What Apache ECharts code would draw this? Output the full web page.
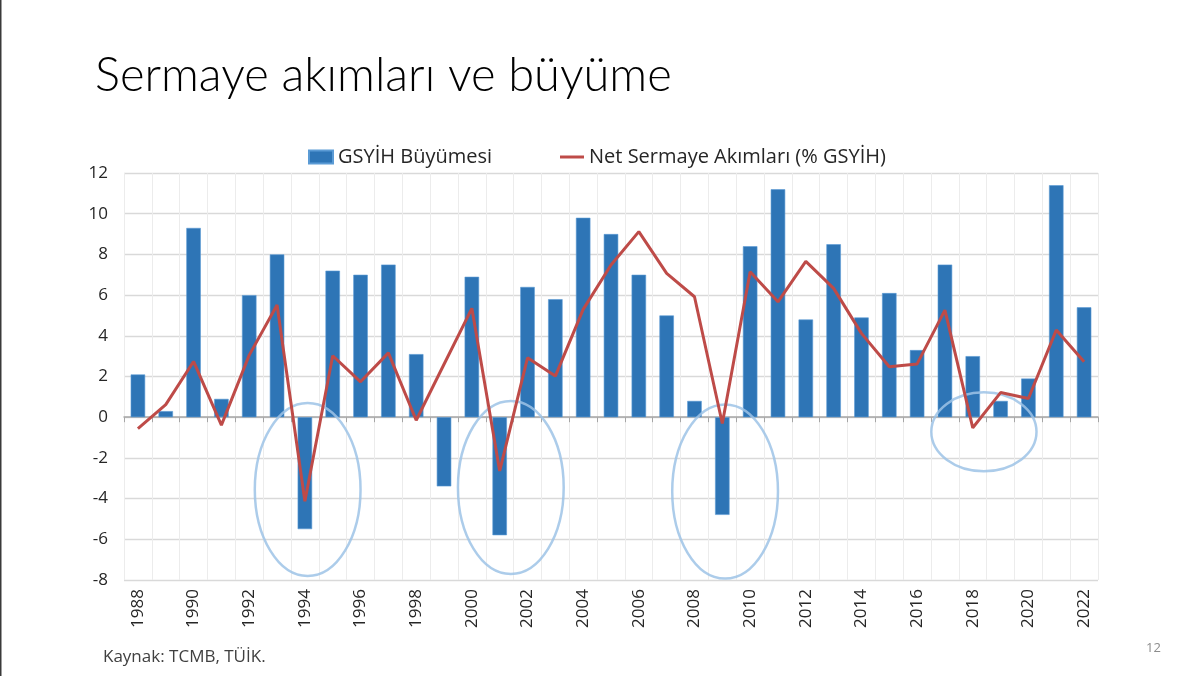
<!DOCTYPE html>
<html>
<head>
<meta charset="utf-8">
<script src="https://cdn.jsdelivr.net/npm/echarts@6/dist/echarts.min.js"></script>
<style>
html,body{margin:0;padding:0;background:#fff;}
#c{width:1200px;height:676px;}
</style>
</head>
<body>
<div id="c"></div>
<script>
const years = ['1988','1989','1990','1991','1992','1993','1994','1995','1996','1997','1998','1999','2000','2001','2002','2003','2004','2005','2006','2007','2008','2009','2010','2011','2012','2013','2014','2015','2016','2017','2018','2019','2020','2021','2022'];
const gdpGrowth = [2.1,0.3,9.3,0.9,6.0,8.0,-5.5,7.2,7.0,7.5,3.1,-3.4,6.9,-5.8,6.4,5.8,9.8,9.0,7.0,5.0,0.8,-4.8,8.4,11.2,4.8,8.5,4.9,6.1,3.3,7.5,3.0,0.8,1.9,11.4,5.4];
const netCapitalFlows = [-0.56,0.62,2.74,-0.39,3.05,5.51,-4.13,3.02,1.74,3.16,-0.15,2.6,5.35,-2.64,2.92,2.02,5.3,7.48,9.12,7.07,5.92,-0.31,7.15,5.67,7.66,6.33,4.12,2.48,2.62,5.26,-0.52,1.21,0.92,4.28,2.72];
const seriesNames = ['GSYİH Büyümesi','Net Sermaye Akımları (% GSYİH)'];
// annotation ellipses in data units: year (fractional category), value, radius in categories / value units
const annotations = [
  {year:1994.1, value:-3.55, rx:1.9, ry:4.25},
  {year:2001.4, value:-3.45, rx:1.9, ry:4.25},
  {year:2009.1, value:-3.65, rx:1.9, ry:4.28},
  {year:2018.4, value:-0.72, rx:1.89, ry:1.94}
];

const FONT = '"Open Sans", "Noto Sans", sans-serif';
const chart = echarts.init(document.getElementById('c'), null, {renderer:'canvas'});
chart.setOption({
  animation:false,
  backgroundColor:'#ffffff',
  title:{
    text:'Sermaye akımları ve büyüme',
    left:90, top:47,
    textStyle:{fontFamily:'Lato, "Open Sans", sans-serif', fontWeight:300, fontSize:47, color:'#000000'}
  },
  legend:{
    top:142, left:303,
    itemWidth:24, itemHeight:13, itemGap:68,
    textStyle:{fontFamily:FONT, fontSize:20, color:'#262626'},
    data:[
      {name:seriesNames[0], icon:'rect'},
      {name:seriesNames[1], icon:'path://M0 0H24V3H0Z', itemStyle:{color:'#BE4B48'}}
    ]
  },
  grid:{left:124, right:102, top:173, bottom:96, containLabel:false},
  xAxis:[
    {
      type:'category', data:years, position:'bottom',
      axisLine:{show:false, onZero:false},
      axisTick:{show:false},
      axisLabel:{interval:1, rotate:90, fontFamily:FONT, fontSize:17, color:'#262626', margin:9},
      splitLine:{show:true, interval:0, lineStyle:{color:'#ececec', width:1}}
    },
    {
      type:'category', data:years, position:'bottom',
      axisLine:{show:true, onZero:true, lineStyle:{color:'#a6a6a6', width:1.5}},
      axisTick:{show:true, interval:0, length:5, lineStyle:{color:'#a6a6a6', width:1}},
      axisLabel:{show:false},
      splitLine:{show:false}
    }
  ],
  yAxis:{
    type:'value', min:-8, max:12, interval:2,
    axisLine:{show:false}, axisTick:{show:false},
    axisLabel:{fontFamily:FONT, fontSize:17, color:'#262626', margin:16},
    splitLine:{lineStyle:{color:'#d9d9d9', width:1.3}}
  },
  series:[
    {
      name:seriesNames[0], type:'bar', data:gdpGrowth, xAxisIndex:0,
      barWidth:'52%', z:1,
      itemStyle:{color:'#2E75B6', borderColor:'#5B9BD5', borderWidth:0.6}
    },
    {
      name:seriesNames[1], type:'line', data:netCapitalFlows, xAxisIndex:0,
      symbol:'none', z:5,
      lineStyle:{color:'#BE4B48', width:3},
      itemStyle:{color:'#BE4B48'}
    }
  ]
});

const pA = chart.convertToPixel({seriesIndex:0}, [0, 0]);
const pB = chart.convertToPixel({seriesIndex:0}, [1, 1]);
const band = pB[0] - pA[0];
const unitY = pA[1] - pB[1];
const ellipses = annotations.map((a, i) => ({
  id:'ell' + i, type:'ellipse', z:3, silent:true,
  shape:{cx:pA[0] + (a.year - 1988) * band, cy:pA[1] - a.value * unitY, rx:a.rx * band, ry:a.ry * unitY},
  style:{fill:'none', stroke:'#9DC3E6', lineWidth:2.5, opacity:0.85}
}));
const staticGraphics = [
  {id:'border', type:'rect', left:0, top:0, z:10, shape:{x:0,y:0,width:1.5,height:676}, style:{fill:'#3a3a3a'}},
  {id:'source', type:'text', left:103, top:649, z:10, style:{text:'Kaynak: TCMB, TÜİK.', fontFamily:FONT, fontSize:17, fill:'#404040'}},
  {id:'page', type:'text', left:1146, top:642, z:10, style:{text:'12', fontFamily:FONT, fontSize:13, fill:'#8c8c8c'}}
];
chart.setOption({graphic:{elements:staticGraphics.concat(ellipses)}});
</script>
</body>
</html>
